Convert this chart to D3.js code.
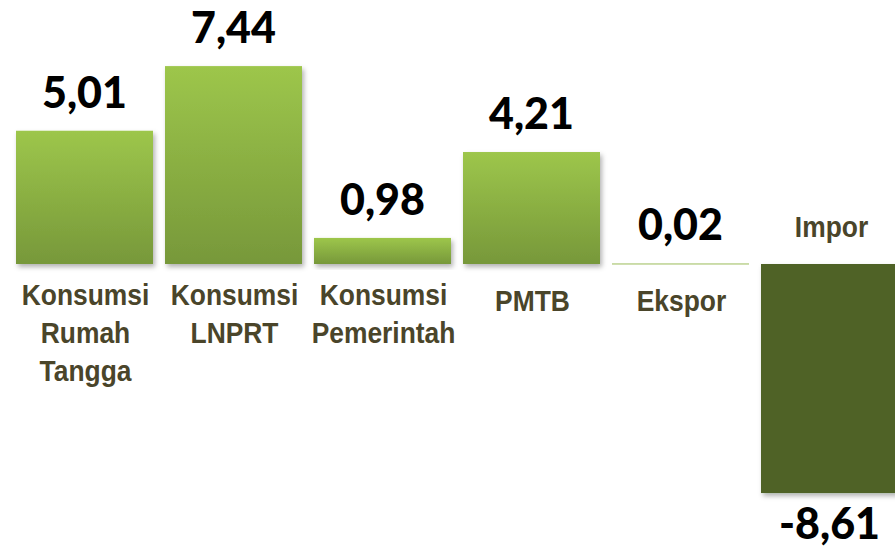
<!DOCTYPE html>
<html>
<head>
<meta charset="utf-8">
<script src="https://cdn.jsdelivr.net/npm/d3@7"></script>
<style>
  html, body { margin: 0; padding: 0; background: #fff; }
  svg { display: block; }
</style>
</head>
<body>
<svg class="chart" width="895" height="548"></svg>
<script>
// categories and values
var categories = [
  ['Konsumsi', 'Rumah', 'Tangga'],
  ['Konsumsi', 'LNPRT'],
  ['Konsumsi', 'Pemerintah'],
  ['PMTB'],
  ['Ekspor'],
  ['Impor']
];
var values = [5.01, 7.44, 0.98, 4.21, 0.02, -8.61];
var valueLabels = ['5,01', '7,44', '0,98', '4,21', '0,02', '-8,61'];

drawChart();

function drawChart() {
  var svg = d3.select('.chart');
  var labelFont = '"Liberation Sans", Arial, sans-serif';
  var numFont = 'Lato, "Open Sans", sans-serif';

  var x = d3.scaleBand()
    .domain(d3.range(values.length))
    .range([16, 898])
    .paddingInner(12 / 149)
    .paddingOuter(0);

  // 0 sits at y=264, roughly 26.6px per unit
  var y = d3.scaleLinear()
    .domain([-8.61, 7.44])
    .range([264 + 8.61 * 26.6, 264 - 7.44 * 26.6]);

  var defs = svg.append('defs');
  var grad = defs.append('linearGradient')
    .attr('id', 'barGrad')
    .attr('x1', 0).attr('y1', 0).attr('x2', 0).attr('y2', 1);
  grad.append('stop').attr('offset', '0%').attr('stop-color', '#9dc64b');
  grad.append('stop').attr('offset', '100%').attr('stop-color', '#77983a');

  var shadow = defs.append('filter')
    .attr('id', 'shadow')
    .attr('x', '-10%').attr('y', '-10%')
    .attr('width', '130%').attr('height', '130%');
  shadow.append('feDropShadow')
    .attr('dx', 2).attr('dy', 3)
    .attr('stdDeviation', 2.5)
    .attr('flood-color', '#000')
    .attr('flood-opacity', 0.3);

  var bars = svg.append('g');
  bars.selectAll('rect')
    .data(values)
    .enter().append('rect')
    .attr('x', function(d, i) { return x(i); })
    .attr('width', x.bandwidth())
    .attr('y', function(d) { return d >= 0 ? y(d) : y(0); })
    .attr('height', function(d) { return Math.max(1, Math.abs(y(d) - y(0))); })
    .attr('fill', function(d) { return d >= 0 ? (Math.abs(d) < 0.1 ? '#9bbb59' : 'url(#barGrad)') : '#4f6228'; })
    .attr('filter', function(d) { return Math.abs(d) < 0.1 ? null : 'url(#shadow)'; });

  // value labels
  svg.append('g').selectAll('text')
    .data(values)
    .enter().append('text')
    .attr('x', function(d, i) { return x(i) + x.bandwidth() / 2; })
    .attr('y', function(d) { return d >= 0 ? y(d) - 23 : y(d) + 46; })
    .attr('text-anchor', 'middle')
    .style('font-family', numFont)
    .style('font-weight', '900')
    .style('font-size', '43px')
    .style('fill', '#000')
    .text(function(d, i) { return valueLabels[i]; });

  // category labels (Arial Narrow look: squeeze Liberation Sans)
  var cat = svg.append('g').selectAll('text')
    .data(categories)
    .enter().append('text')
    .attr('text-anchor', 'middle')
    .style('font-family', labelFont)
    .style('font-weight', 'bold')
    .style('font-size', '30px')
    .style('fill', '#4a452a')
    .attr('transform', function(d, i) {
      var cx = x(i) + x.bandwidth() / 2 + (values[i] < 0 ? 2 : 1);
      var by = values[i] < 0 ? y(0) - 27 : (d.length > 1 ? 305 : 311);
      return 'translate(' + cx + ',' + by + ') scale(0.88,1)';
    });

  cat.selectAll('tspan')
    .data(function(d) { return d; })
    .enter().append('tspan')
    .attr('x', 0)
    .attr('dy', function(d, j) { return j === 0 ? 0 : 38; })
    .text(function(d) { return d; });
}
</script>
</body>
</html>
